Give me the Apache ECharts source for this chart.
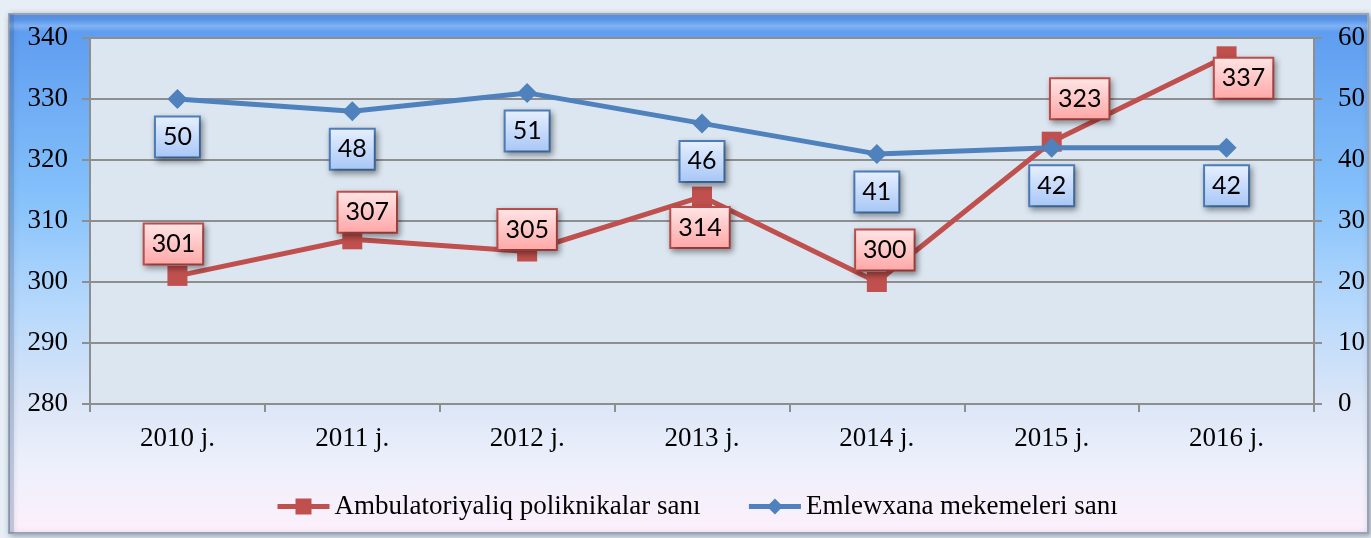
<!DOCTYPE html>
<html>
<head>
<meta charset="utf-8">
<script src="https://cdn.jsdelivr.net/npm/echarts@6/dist/echarts.min.js"></script>
<style>
html,body{margin:0;padding:0;background:#e7eef5;}
#c{width:1371px;height:538px;}
</style>
</head>
<body>
<div id="c"></div>
<script>
// ---- data ----
const categories = ['2010 j.', '2011 j.', '2012 j.', '2013 j.', '2014 j.', '2015 j.', '2016 j.'];
const seriesNames = ['Ambulatoriyaliq poliknikalar sanı', 'Emlewxana mekemeleri sanı'];
const ambulatoryValues = [301, 307, 305, 314, 300, 323, 337];
const hospitalValues = [50, 48, 51, 46, 41, 42, 42];
const leftTicks = [280, 290, 300, 310, 320, 330, 340];
const rightTicks = [0, 10, 20, 30, 40, 50, 60];

// ---- label placement (layout only) ----
const redLabelOffsets = [[-4, -32], [15, -27], [0, -22], [-2, 31], [8, -32], [28, -43], [17, 22]];
const blueLabelOffsets = [[0, 38], [0, 38], [0, 38], [0, 38], [0, 38], [0, 38], [0, 38]];

const RED = '#c0504d';
const BLUE = '#4f81bd';

function grad(c0, c1) {
  return new echarts.graphic.LinearGradient(0, 0, 0, 1, [{offset: 0, color: c0}, {offset: 1, color: c1}]);
}

function boxLabel(border, c0, c1) {
  return {
    show: true,
    position: 'inside',
    color: '#000',
    fontFamily: 'Lato',
    fontSize: 25,
    lineHeight: 25,
    padding: [7, 7, 7, 7],
    backgroundColor: grad(c0, c1),
    borderColor: border,
    borderWidth: 2,
    shadowColor: 'rgba(0,0,0,0.35)',
    shadowBlur: 6,
    shadowOffsetX: 2,
    shadowOffsetY: 3
  };
}

const redData = ambulatoryValues.map((v, i) => ({value: v, label: {offset: redLabelOffsets[i]}}));
const blueData = hospitalValues.map((v, i) => ({value: v, label: {offset: blueLabelOffsets[i]}}));

const chart = echarts.init(document.getElementById('c'), null, {renderer: 'canvas'});

const axisFont = {fontFamily: 'Liberation Serif', fontSize: 27, color: '#000'};

const option = {
  backgroundColor: '#e7eef5',
  animation: false,
  graphic: {
    elements: [
      {
        type: 'rect', z: -20,
        shape: {x: 9, y: 14, width: 1359, height: 519},
        style: {
          fill: new echarts.graphic.LinearGradient(0, 0, 0, 1, [
            {offset: 0, color: '#5a99ef'},
            {offset: 0.36, color: '#86c2fb'},
            {offset: 0.55, color: '#b3d7fc'},
            {offset: 0.75, color: '#dce6f7'},
            {offset: 0.87, color: '#edf0fc'},
            {offset: 1, color: '#fdf0fb'}
          ]),
          stroke: '#97a3b6', lineWidth: 2,
          shadowColor: 'rgba(60,70,90,0.45)', shadowBlur: 6, shadowOffsetX: 2, shadowOffsetY: 2
        }
      },
      {
        type: 'rect', z: -18,
        shape: {x: 9, y: 20, width: 1359, height: 12},
        style: {
          fill: new echarts.graphic.LinearGradient(0, 0, 0, 1, [
            {offset: 0, color: 'rgba(255,255,255,0)'},
            {offset: 0.5, color: 'rgba(255,255,255,0.22)'},
            {offset: 1, color: 'rgba(255,255,255,0)'}
          ])
        }
      },
      {
        type: 'rect', z: -18,
        shape: {x: 9, y: 14, width: 5, height: 519},
        style: {fill: 'rgba(40,70,130,0.18)'}
      }
    ]
  },
  grid: {
    left: 90, right: 57, top: 38, bottom: 134,
    show: true, backgroundColor: '#dce6f0', borderWidth: 0
  },
  legend: {
    left: 270, top: 488,
    itemWidth: 52, itemHeight: 20, itemGap: 46,
    lineStyle: {width: 5},
    textStyle: axisFont,
    data: seriesNames
  },
  xAxis: {
    type: 'category',
    data: categories,
    boundaryGap: true,
    axisLine: {lineStyle: {color: '#8e8e8e', width: 2}},
    axisTick: {show: true, length: 8, lineStyle: {color: '#8e8e8e', width: 2}},
    axisLabel: Object.assign({margin: 21}, axisFont),
    splitLine: {show: false}
  },
  yAxis: [
    {
      type: 'value', position: 'left',
      min: leftTicks[0], max: leftTicks[leftTicks.length - 1], interval: 10,
      axisLine: {show: true, lineStyle: {color: '#8e8e8e', width: 2}},
      axisTick: {show: true, length: 8, lineStyle: {color: '#8e8e8e', width: 2}},
      axisLabel: Object.assign({margin: 22}, axisFont),
      splitLine: {show: true, lineStyle: {color: '#8e8e8e', width: 2}}
    },
    {
      type: 'value', position: 'right',
      min: rightTicks[0], max: rightTicks[rightTicks.length - 1], interval: 10,
      axisLine: {show: true, lineStyle: {color: '#8e8e8e', width: 2}},
      axisTick: {show: true, length: 8, lineStyle: {color: '#8e8e8e', width: 2}},
      axisLabel: Object.assign({margin: 24}, axisFont),
      splitLine: {show: false}
    }
  ],
  series: [
    {
      name: seriesNames[0],
      type: 'line',
      yAxisIndex: 0,
      data: redData,
      symbol: 'rect',
      symbolSize: 20,
      itemStyle: {color: RED},
      lineStyle: {color: RED, width: 5},
      label: boxLabel(RED, '#ffe6e6', '#ffa6a6'),
      z: 2
    },
    {
      name: seriesNames[1],
      type: 'line',
      yAxisIndex: 1,
      data: blueData,
      symbol: 'diamond',
      symbolSize: 20,
      itemStyle: {color: BLUE},
      lineStyle: {color: BLUE, width: 5},
      label: boxLabel(BLUE, '#e8f0ff', '#a6c6f6'),
      z: 3
    }
  ]
};
chart.setOption(option);
</script>
</body>
</html>
